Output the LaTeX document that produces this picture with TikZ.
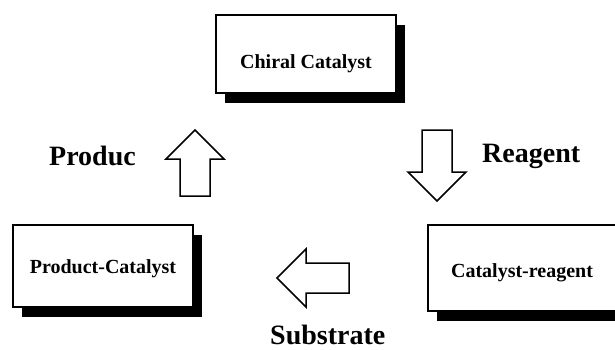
\documentclass[tikz,border=0pt]{standalone}
\usepackage{fontspec}
\setmainfont{Liberation Serif}
\usetikzlibrary{shadows}
\tikzset{
  stagebox/.style={draw, line width=1.5pt, fill=white, inner sep=0pt,
    text depth=0pt, font=\fontsize{20}{24}\selectfont\bfseries,
    drop shadow={shadow xshift=9pt, shadow yshift=-10pt, fill=black, opacity=1}},
  steplabel/.style={inner sep=0pt, font=\fontsize{28}{32}\selectfont\bfseries},
  arrowline/.style={draw, line width=1.5pt, fill=white, line join=miter},
  pics/blockarrow/.style={code={
    \path[arrowline] (0,-15) -- (#1-29,-15) -- (#1-29,-29) -- (#1,0)
      -- (#1-29,29) -- (#1-29,15) -- (0,15) -- cycle;
  }}
}
\begin{document}
\begin{tikzpicture}[x=1pt, y=-1pt]
\useasboundingbox (0,0) rectangle (615,350);

% the three stages of the catalytic cycle
\node[stagebox, minimum width=180pt, minimum height=78pt, text height=30pt]
  (chiral) at (306,54) {Chiral Catalyst};
\node[stagebox, minimum width=188pt, minimum height=86pt, text height=18pt]
  (catreag) at (522,268) {Catalyst-reagent};
\node[stagebox, minimum width=180pt, minimum height=82pt, text height=14pt]
  (prodcat) at (103,266) {Product-Catalyst};

% block arrows between the stages
\pic[rotate=-90] at (437,130) {blockarrow=71};
\pic[rotate=180] at (349,278) {blockarrow=72};
\pic[rotate=90] at (195,196) {blockarrow=66};

% step labels
\node[steplabel, anchor=base west] (reagent) at (482,162) {Reagent};
\node[steplabel, anchor=base west] (substrate) at (270,344) {Substrate};
\node[steplabel, anchor=base west] (produce) at (49,165) {Produc};
\end{tikzpicture}
\end{document}
